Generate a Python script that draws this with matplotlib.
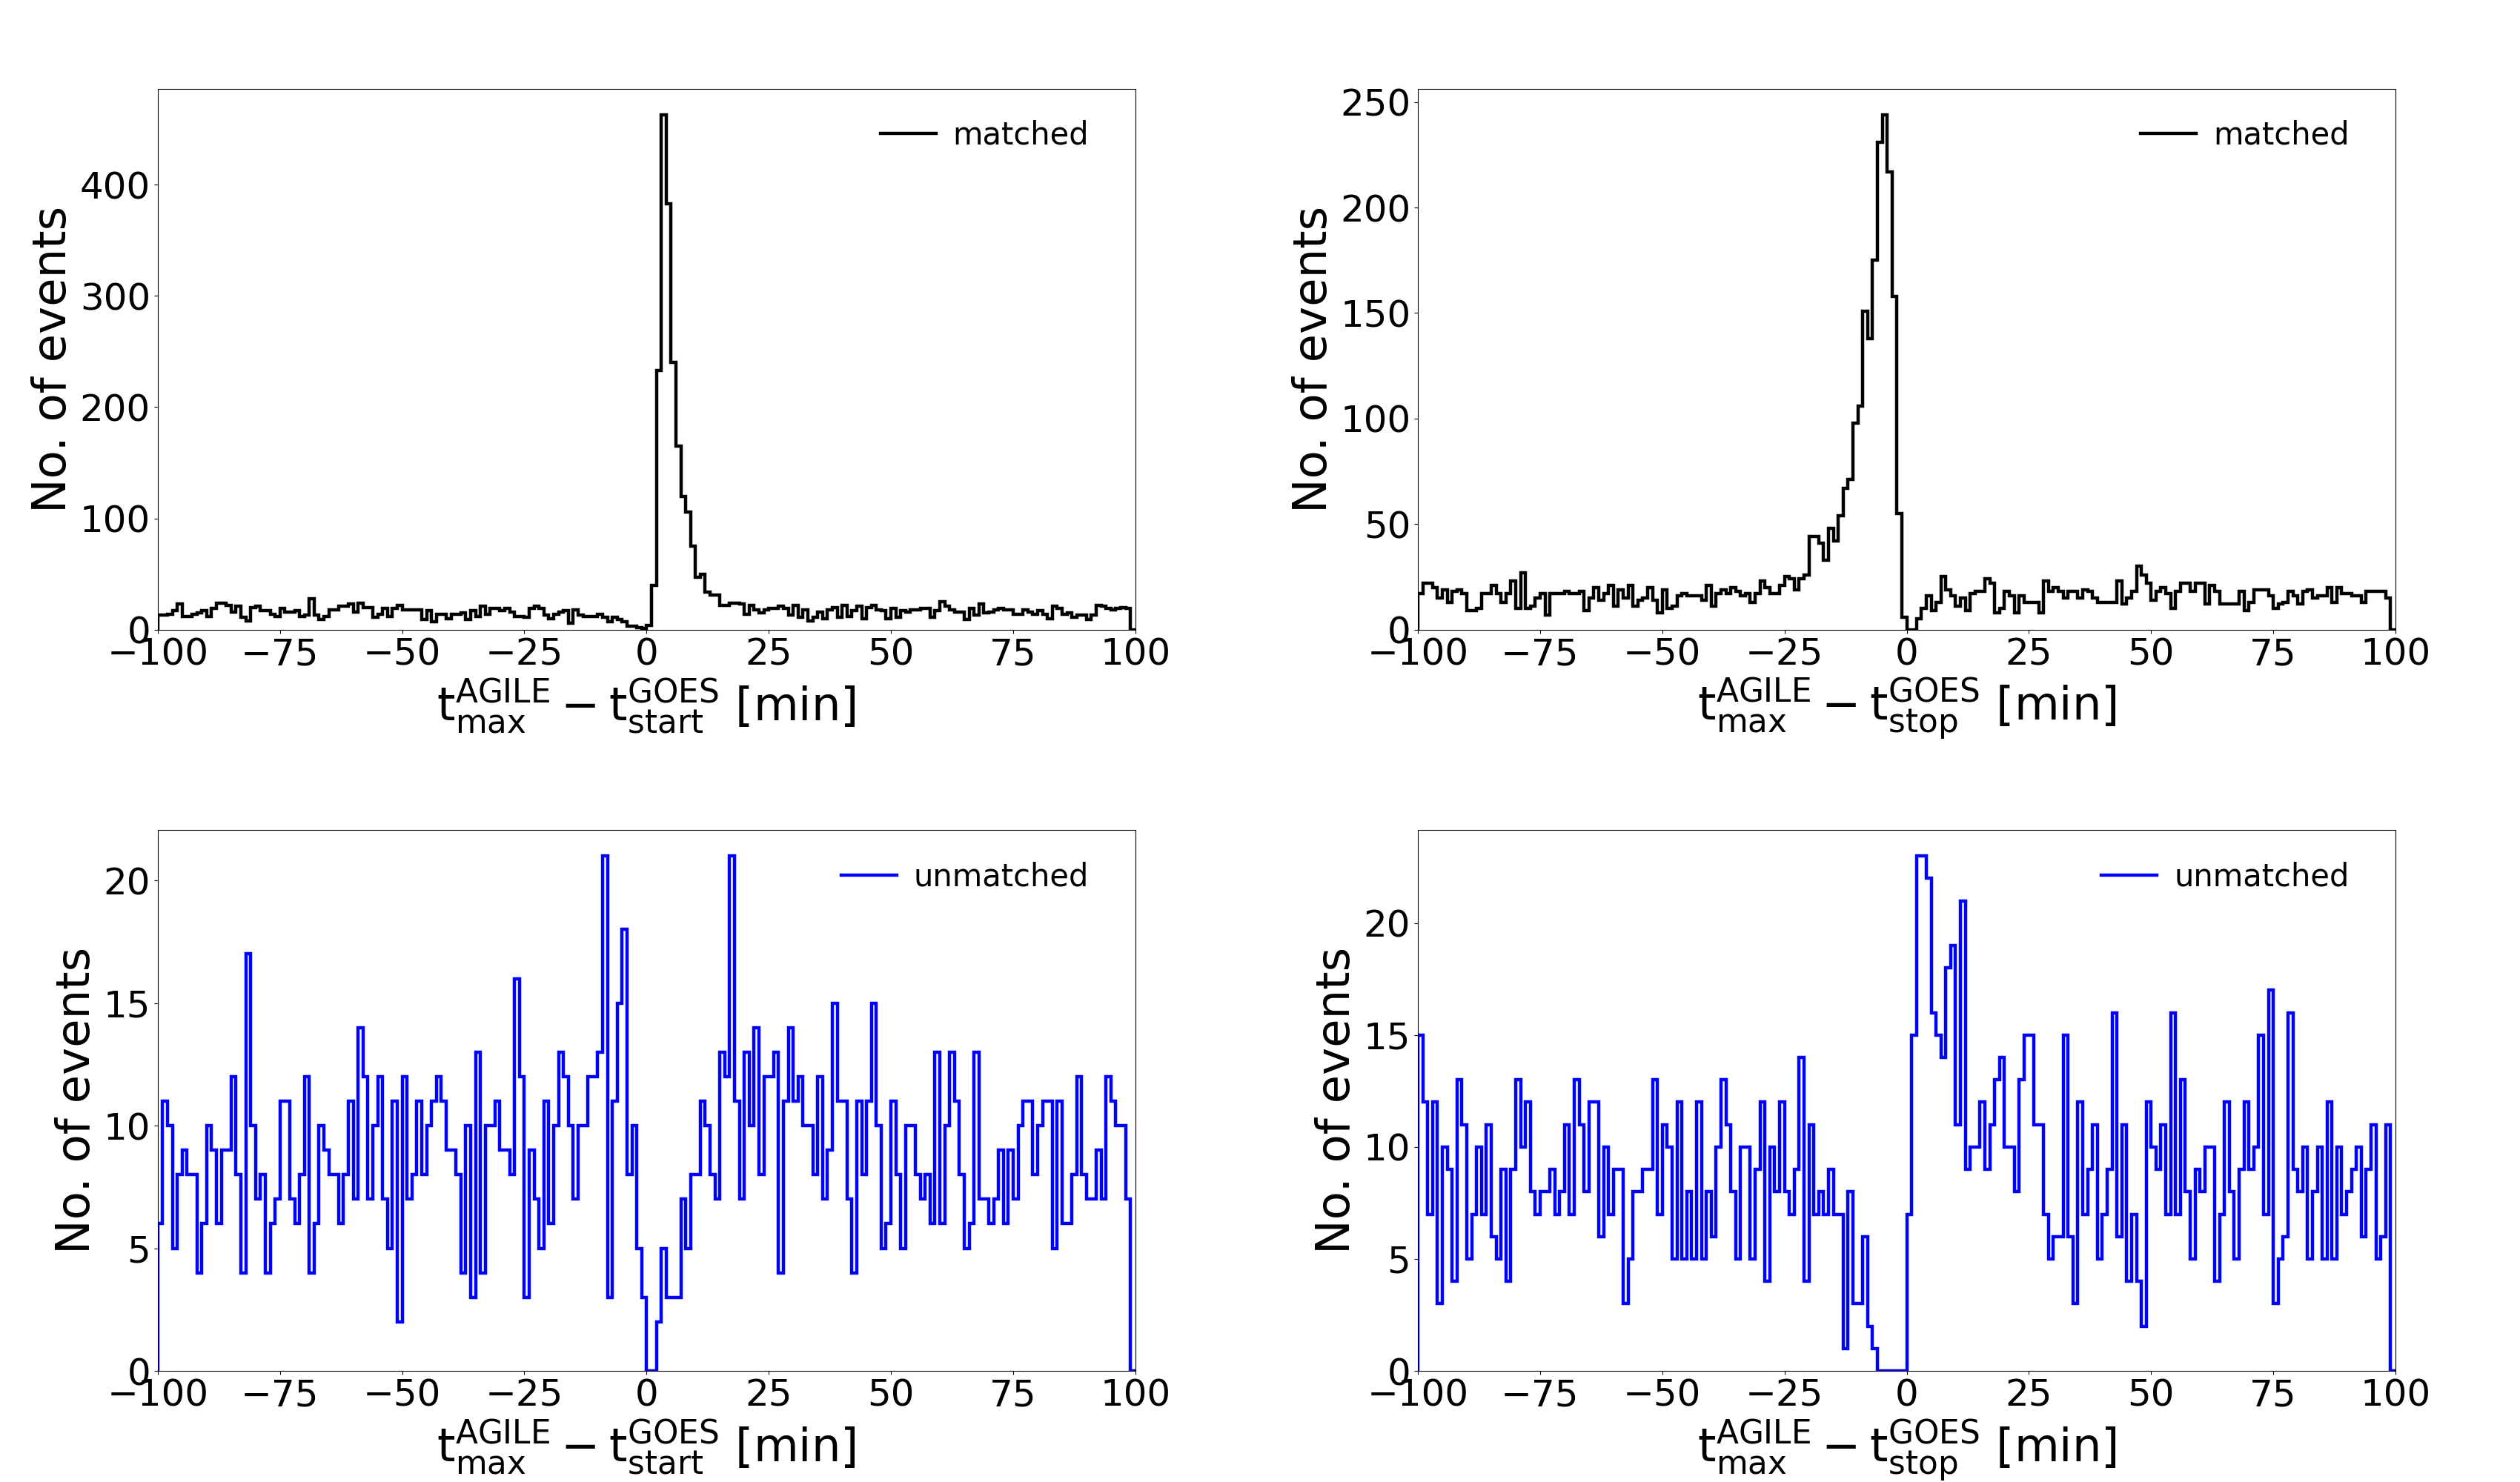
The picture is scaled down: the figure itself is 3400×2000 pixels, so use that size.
import numpy as np
import matplotlib
matplotlib.use("Agg")
import matplotlib.pyplot as plt

# 1-minute bins from -100 to +100 min
bin_lo, bin_hi, bin_width = -100, 100, 1

# counts per bin, matched events (t_max - t_start)
matched_start = [
    13, 13, 14, 17, 23, 12, 12, 14, 15, 17, 12, 19, 24, 24, 22, 16, 21, 11, 8, 20,
    21, 17, 17, 14, 12, 19, 16, 16, 17, 12, 13, 28, 13, 9, 12, 18, 18, 21, 21, 23,
    16, 24, 20, 20, 11, 14, 19, 12, 19, 22, 18, 18, 18, 18, 9, 17, 7, 14, 14, 10,
    14, 14, 15, 9, 17, 12, 21, 14, 19, 19, 17, 19, 16, 12, 12, 11, 19, 21, 19, 13,
    10, 14, 16, 17, 6, 18, 13, 12, 12, 12, 14, 11, 7, 11, 9, 7, 3, 3, 2, 1,
    4, 40, 233, 463, 383, 240, 165, 120, 106, 75, 47, 50, 34, 31, 31, 22, 22, 24, 24, 23,
    14, 22, 18, 15, 18, 19, 19, 21, 19, 13, 22, 11, 18, 8, 11, 16, 10, 18, 20, 11,
    22, 12, 17, 21, 10, 20, 22, 18, 17, 10, 19, 11, 17, 16, 18, 18, 19, 19, 11, 17,
    25, 21, 18, 16, 16, 9, 19, 13, 23, 15, 16, 18, 19, 18, 18, 14, 14, 18, 16, 14,
    17, 14, 10, 21, 19, 14, 15, 11, 13, 13, 9, 13, 22, 21, 19, 18, 19, 20, 19, 0,
]

# counts per bin, matched events (t_max - t_stop)
matched_stop = [
    17, 22, 22, 20, 15, 19, 13, 18, 19, 17, 9, 9, 10, 17, 17, 21, 17, 13, 17, 23,
    10, 27, 10, 11, 15, 17, 7, 17, 17, 17, 18, 17, 17, 18, 9, 15, 20, 14, 17, 21,
    11, 19, 15, 21, 11, 14, 15, 20, 14, 8, 19, 10, 11, 16, 17, 16, 16, 16, 14, 21,
    11, 17, 19, 17, 20, 18, 16, 17, 13, 17, 23, 20, 17, 17, 21, 25, 24, 19, 24, 26,
    44, 44, 41, 33, 48, 42, 54, 67, 71, 98, 106, 151, 138, 175, 231, 244, 217, 158, 55, 6,
    0, 0, 5, 10, 16, 9, 13, 25, 19, 16, 11, 15, 9, 17, 18, 18, 24, 22, 8, 10,
    18, 16, 8, 16, 13, 13, 13, 8, 23, 18, 20, 18, 15, 18, 18, 15, 19, 18, 15, 13,
    13, 13, 13, 23, 12, 15, 18, 30, 26, 22, 14, 18, 20, 17, 10, 18, 22, 22, 18, 22,
    22, 12, 21, 18, 12, 12, 12, 12, 18, 9, 13, 19, 19, 19, 16, 10, 12, 13, 18, 16,
    12, 18, 19, 15, 16, 16, 20, 13, 20, 17, 17, 16, 16, 13, 18, 18, 18, 18, 15, 0,
]

# counts per bin, unmatched events (t_max - t_start)
unmatched_start = [
    6, 11, 10, 5, 8, 9, 8, 8, 4, 6, 10, 9, 6, 9, 9, 12, 8, 4, 17, 10,
    7, 8, 4, 6, 7, 11, 11, 7, 6, 8, 12, 4, 6, 10, 9, 8, 8, 6, 8, 11,
    7, 14, 12, 7, 10, 12, 7, 5, 11, 2, 12, 7, 8, 11, 8, 10, 11, 12, 11, 9,
    9, 8, 4, 10, 3, 13, 4, 10, 10, 11, 9, 9, 8, 16, 12, 3, 9, 7, 5, 11,
    6, 10, 13, 12, 10, 7, 10, 10, 12, 12, 13, 21, 3, 11, 15, 18, 8, 10, 5, 3,
    0, 0, 2, 5, 3, 3, 3, 7, 5, 8, 8, 11, 10, 8, 7, 13, 12, 21, 11, 7,
    13, 10, 14, 8, 12, 12, 13, 4, 11, 14, 11, 12, 10, 10, 8, 12, 7, 9, 15, 11,
    11, 7, 4, 11, 8, 11, 15, 10, 5, 6, 11, 8, 5, 10, 10, 8, 7, 8, 6, 13,
    6, 10, 13, 11, 8, 5, 6, 13, 7, 7, 6, 7, 9, 6, 9, 7, 10, 11, 11, 8,
    10, 11, 11, 5, 11, 6, 6, 8, 12, 8, 7, 7, 9, 7, 12, 11, 10, 10, 7, 0,
]

# counts per bin, unmatched events (t_max - t_stop)
unmatched_stop = [
    15, 12, 7, 12, 3, 10, 9, 4, 13, 11, 5, 7, 10, 7, 11, 6, 5, 9, 4, 9,
    13, 10, 12, 8, 7, 8, 8, 9, 7, 8, 11, 7, 13, 11, 8, 12, 12, 6, 10, 7,
    9, 9, 3, 5, 8, 8, 9, 9, 13, 7, 11, 10, 5, 12, 5, 8, 5, 12, 5, 8,
    6, 10, 13, 11, 8, 5, 10, 10, 5, 9, 12, 4, 10, 8, 12, 8, 7, 9, 14, 4,
    11, 7, 8, 7, 9, 7, 7, 1, 8, 3, 3, 6, 2, 1, 0, 0, 0, 0, 0, 0,
    7, 15, 23, 23, 22, 16, 15, 14, 18, 19, 11, 21, 9, 10, 10, 12, 9, 11, 13, 14,
    10, 10, 8, 13, 15, 15, 11, 11, 7, 5, 6, 6, 15, 6, 3, 12, 7, 9, 11, 5,
    7, 9, 16, 6, 11, 4, 7, 4, 2, 12, 10, 9, 11, 7, 16, 7, 13, 8, 5, 9,
    8, 10, 10, 4, 7, 12, 8, 5, 9, 12, 9, 10, 15, 7, 17, 3, 5, 6, 16, 9,
    8, 10, 5, 8, 10, 5, 12, 5, 10, 7, 8, 9, 10, 6, 9, 11, 5, 6, 11, 0,
]

xticks = [-100, -75, -50, -25, 0, 25, 50, 75, 100]
xlabel_start = r'$\mathrm{t^{AGILE}_{max} - t^{GOES}_{start}}$ [min]'
xlabel_stop = r'$\mathrm{t^{AGILE}_{max} - t^{GOES}_{stop}}$ [min]'

edges = np.arange(bin_lo, bin_hi + bin_width, bin_width)

fig, axs = plt.subplots(2, 2, figsize=(34, 20), dpi=100)
plt.subplots_adjust(left=0.0626, right=0.9506, bottom=0.075, top=0.94,
                    wspace=0.289, hspace=0.371)

panels = [
    (axs[0, 0], matched_start, 'k', 'matched', xlabel_start),
    (axs[0, 1], matched_stop, 'k', 'matched', xlabel_stop),
    (axs[1, 0], unmatched_start, 'b', 'unmatched', xlabel_start),
    (axs[1, 1], unmatched_stop, 'b', 'unmatched', xlabel_stop),
]

for ax, counts, col, lab, xl in panels:
    ax.stairs(counts, edges, color=col, linewidth=3.2, label=lab)
    ax.set_xlim(bin_lo, bin_hi)
    ax.set_ylim(0, max(counts) * 1.05)
    ax.set_xticks(xticks)
    ax.tick_params(labelsize=36)
    ax.set_xlabel(xl, fontsize=45)
    ax.set_ylabel('No. of events', fontsize=45)
    ax.legend(loc='upper right', bbox_to_anchor=(0.981, 0.994), frameon=False,
              fontsize=30, handlelength=1.8, handletextpad=0.55)

plt.savefig('out.png', dpi=100)
